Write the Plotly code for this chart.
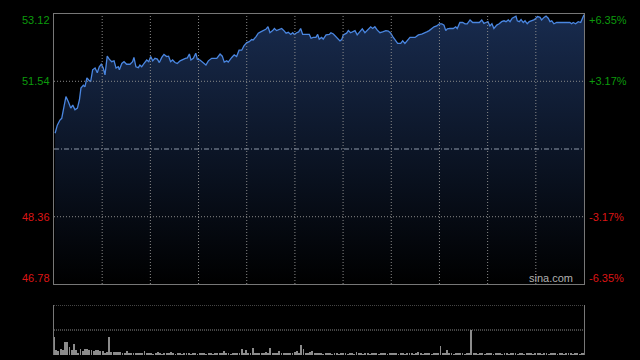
import plotly.graph_objects as go

# ---------------- data ----------------
# minutes since open (0..240) and last price
minutes = [
    0.5, 1.5, 2.7, 3.5, 4.5, 5.4, 6.5, 7.6, 8.5, 9.5, 10.6, 11.5, 12.2, 13.3, 14.0, 14.9, 15.7, 16.6,
    17.5, 18.6, 19.6, 20.5, 21.4, 22.3, 23.1, 24.1, 25.0, 26.1, 27.2, 28.1, 29.1, 29.6, 30.7, 31.7,
    32.9, 34.4, 35.6, 36.2, 37.1, 38.2, 38.9, 39.7, 40.8, 42.0, 42.9, 43.8, 44.7, 45.7, 46.8, 47.7,
    48.8, 49.8, 51.0, 51.9, 52.8, 53.7, 54.8, 55.8, 57.1, 58.3, 59.5, 60.4, 61.3, 62.0, 63.1, 64.2,
    64.9, 66.1, 67.6, 68.8, 69.9, 71.4, 73.7, 75.2, 76.2, 77.1, 78.2, 78.9, 80.5, 81.6, 82.7, 83.8,
    85.0, 86.0, 87.3, 88.4, 89.5, 90.2, 91.5, 92.5, 93.6, 94.8, 95.9, 96.9, 97.8, 99.0, 99.8, 100.8,
    102.0, 103.1, 104.1, 105.1, 106.1, 107.2, 108.1, 108.8, 109.9, 110.8, 111.7, 112.6, 114.4, 115.6,
    116.4, 117.4, 118.6, 119.4, 120.1, 121.2, 121.9, 123.2, 124.7, 125.4, 126.5, 128.0, 129.5, 130.3,
    131.0, 132.5, 133.3, 134.3, 135.5, 136.3, 137.3, 138.6, 139.6, 140.8, 142.3, 143.4, 144.3, 145.3,
    146.4, 147.6, 148.8, 150.3, 151.4, 152.5, 153.4, 154.4, 155.6, 157.0, 157.9, 158.9, 160.0, 161.2,
    163.5, 165.0, 166.5, 167.5, 168.8, 169.9, 171.0, 172.1, 173.3, 174.5, 175.6, 176.6, 177.4, 178.1,
    179.3, 180.8, 181.9, 182.6, 183.8, 185.1, 186.1, 187.1, 188.4, 189.6, 191.1, 192.6, 193.7, 194.7,
    195.6, 196.5, 197.4, 198.3, 199.2, 200.5, 201.6, 202.7, 203.8, 204.7, 205.7, 206.5, 207.5, 208.4,
    209.2, 209.8, 210.7, 211.5, 212.5, 213.3, 214.3, 215.2, 216.3, 217.3, 218.2, 219.0, 220.1, 220.8,
    221.9, 222.8, 223.8, 224.6, 225.4, 226.4, 227.6, 229.1, 230.6, 232.1, 233.6, 234.4, 235.1, 236.2,
    237.4, 238.5, 239.4, 240.0,
]
prices = [
    50.32, 50.51, 50.63, 50.67, 50.94, 51.18, 51.06, 50.91, 50.98, 50.87, 50.91, 51.10, 51.38, 51.45,
    51.41, 51.62, 51.57, 51.53, 51.81, 51.85, 51.74, 51.88, 51.94, 51.85, 51.69, 52.13, 52.06, 52.00,
    52.02, 51.85, 51.88, 51.81, 51.96, 52.00, 51.94, 51.94, 52.00, 52.10, 51.88, 51.86, 51.92, 51.88,
    51.96, 52.04, 52.00, 52.12, 52.02, 52.08, 52.06, 51.98, 52.10, 52.17, 52.12, 52.13, 52.00, 52.04,
    51.98, 51.96, 52.02, 52.06, 52.08, 52.09, 52.18, 52.04, 52.08, 52.20, 52.06, 52.04, 51.98, 51.92,
    52.02, 52.08, 52.08, 52.18, 52.13, 51.99, 52.02, 51.99, 52.10, 52.16, 52.12, 52.27, 52.27, 52.37,
    52.45, 52.47, 52.52, 52.51, 52.59, 52.67, 52.70, 52.74, 52.76, 52.82, 52.68, 52.73, 52.78, 52.73,
    52.76, 52.78, 52.73, 52.67, 52.69, 52.64, 52.68, 52.64, 52.68, 52.70, 52.78, 52.64, 52.64, 52.64,
    52.55, 52.57, 52.57, 52.64, 52.53, 52.57, 52.53, 52.63, 52.64, 52.68, 52.65, 52.57, 52.49, 52.52,
    52.63, 52.67, 52.73, 52.68, 52.70, 52.73, 52.63, 52.70, 52.77, 52.68, 52.76, 52.82, 52.78, 52.82,
    52.74, 52.68, 52.70, 52.73, 52.72, 52.67, 52.59, 52.51, 52.43, 52.43, 52.49, 52.43, 52.49, 52.57,
    52.57, 52.63, 52.65, 52.68, 52.70, 52.73, 52.78, 52.82, 52.84, 52.89, 52.89, 52.86, 52.73, 52.77,
    52.78, 52.78, 52.82, 52.78, 52.92, 52.92, 52.89, 52.89, 52.98, 52.92, 52.92, 52.92, 52.98, 52.90,
    52.92, 52.94, 52.84, 52.89, 52.78, 52.86, 52.89, 52.94, 52.96, 52.94, 52.98, 52.94, 53.02, 53.04,
    53.07, 52.96, 52.94, 52.99, 52.92, 52.96, 52.89, 52.94, 52.96, 52.98, 53.02, 53.06, 53.04, 52.98,
    53.04, 53.07, 53.02, 52.94, 52.96, 52.89, 52.92, 52.92, 52.92, 52.92, 52.92, 52.89, 52.92, 52.89,
    52.94, 52.92, 53.04, 53.10,
]
volume = [
    37, 10, 9, 12, 10, 27, 27, 17, 10, 23, 10, 5, 12, 9, 12, 12, 10, 10, 9, 10, 10, 9, 9, 5, 6,
    37, 7, 7, 7, 7, 7,
    5, 5, 9, 4, 5, 4, 3, 5, 4, 3,
    8, 3, 4, 3, 2, 4, 7, 3, 2, 4, 3, 5, 6, 3, 2, 3, 4, 2, 3, 4,
    3, 2, 4, 3, 2, 3, 5, 3, 2, 4, 3, 2, 3, 4, 3, 5,
    9,
    3, 4, 2, 3, 5, 4, 3,
    13, 4, 11, 5, 3, 15,
    4, 3, 5, 3, 4, 6, 3,
    15,
    4, 3, 5,
    9,
    3, 4, 3, 5, 3, 4,
    7, 9, 4, 21, 12, 4, 3, 6, 8, 3, 4, 3,
    3, 2, 4, 3, 5, 2, 3, 4, 2, 3, 5, 3, 2, 4, 3, 2, 6, 3, 4, 2,
    3, 5, 2, 3, 4, 3, 2, 5, 3, 4, 2, 3, 4, 5, 3, 2, 4, 3, 2, 5,
    3, 4, 2, 3, 6, 3, 2, 4, 3, 5, 2, 3, 4, 3,
    19, 3, 4, 11,
    3, 4, 2, 3, 5, 3, 4, 2, 3, 4,
    50,
    3, 4, 2, 3, 5, 2, 3, 4, 3, 2, 4, 3, 5, 2, 3, 4, 2, 3, 3, 4,
    2, 5, 3, 2, 4, 3, 3, 2, 4, 3, 5, 2, 3, 4, 2, 3, 3, 4, 2, 3,
    5, 2, 3, 4, 3, 2, 3, 4, 2, 3, 4,
]
vol_minutes = list(range(len(volume)))

prev_close = 49.95
price_ticks = [46.78, 48.36, 51.54, 53.12]
price_labels = ["46.78", "48.36", "51.54", "53.12"]
pct_labels = ["-6.35%", "-3.17%", "+3.17%", "+6.35%"]
vol_grid = [50, 100]
session_minutes = 240
n_vgrid = 11

# ---------------- style ----------------
X0, X1 = 54 / 640, 584 / 640
MAIN = [(360 - 284) / 360, (360 - 14) / 360]
VOL = [(360 - 355) / 360, (360 - 305) / 360]
FRAME = "#777777"
GRID = "#8a8a8a"
GREEN = "#0c9a0c"
RED = "#dd1515"
FONT = "Arial, Liberation Sans, sans-serif"

fig = go.Figure()
fig.add_trace(go.Scatter(
    x=minutes, y=prices, mode="lines",
    line=dict(color="#4a86e0", width=1.3),
    fill="tozeroy",
    fillgradient=dict(type="vertical",
                      colorscale=[[0, "#000000"], [1, "#182b4e"]],
                      start=price_ticks[0], stop=price_ticks[-1]),
    xaxis="x", yaxis="y", hoverinfo="skip", showlegend=False,
))
fig.add_trace(go.Bar(
    x=vol_minutes, y=volume, width=0.4,
    marker=dict(color="#8c8c8c", line=dict(width=0)),
    xaxis="x2", yaxis="y3", hoverinfo="skip", showlegend=False,
))

shapes = []
for k in range(1, n_vgrid):
    xv = session_minutes * k / n_vgrid
    shapes.append(dict(type="line", xref="x", yref="y domain", x0=xv, x1=xv, y0=0, y1=1,
                       line=dict(color=GRID, width=1, dash="1px,2px"), layer="above"))
for v in price_ticks[1:-1]:
    shapes.append(dict(type="line", xref="x domain", yref="y", x0=0, x1=1, y0=v, y1=v,
                       line=dict(color=GRID, width=1, dash="1px,2px"), layer="above"))
shapes.append(dict(type="line", xref="x domain", yref="y", x0=0, x1=1, y0=prev_close, y1=prev_close,
                   line=dict(color="#8f9aab", width=1, dash="5px,2px,1px,2px"), layer="above"))
for v in vol_grid:
    shapes.append(dict(type="line", xref="x2 domain", yref="y3", x0=0, x1=1, y0=v, y1=v,
                       line=dict(color=GRID, width=1, dash="1px,1px"), layer="above"))

annotations = []
for i, (v, lab, pct) in enumerate(zip(price_ticks, price_labels, pct_labels)):
    col = GREEN if v > prev_close else RED
    ys = -6 if i == len(price_ticks) - 1 else (6 if i == 0 else 0)
    annotations.append(dict(xref="paper", yref="y", x=X0, y=v, text=lab, showarrow=False,
                            xanchor="right", yanchor="middle", xshift=-2, yshift=ys,
                            font=dict(family=FONT, size=11, color=col)))
    annotations.append(dict(xref="paper", yref="y", x=X1, y=v, text=pct, showarrow=False,
                            xanchor="left", yanchor="middle", xshift=3, yshift=ys,
                            font=dict(family=FONT, size=11, color=col)))
annotations.append(dict(xref="paper", yref="y", x=X1, y=price_ticks[0], text="sina.com",
                        showarrow=False, xanchor="right", yanchor="middle", xshift=-9, yshift=6,
                        font=dict(family=FONT, size=11, color="#b0b0b0")))

fig.update_layout(
    width=640, height=360,
    margin=dict(l=0, r=0, t=0, b=0),
    paper_bgcolor="#000000", plot_bgcolor="#000000",
    showlegend=False, bargap=0,
    xaxis=dict(domain=[X0, X1], range=[0, session_minutes], showgrid=False, zeroline=False,
               showticklabels=False, ticks="", showline=True, linecolor=FRAME, linewidth=1,
               mirror=True, anchor="y", fixedrange=True),
    yaxis=dict(domain=MAIN, range=[price_ticks[0], price_ticks[-1]], showgrid=False,
               zeroline=False, showticklabels=False, ticks="", showline=True, linecolor=FRAME,
               linewidth=1, mirror=True, anchor="x", fixedrange=True),
    xaxis2=dict(domain=[X0, X1], range=[0, session_minutes], showgrid=False, zeroline=False,
                showticklabels=False, ticks="", showline=False, anchor="y3", fixedrange=True),
    yaxis3=dict(domain=VOL, range=[0, 100], showgrid=False, zeroline=False,
                showticklabels=False, ticks="", showline=True, linecolor=FRAME, linewidth=1,
                mirror=True, anchor="x2", fixedrange=True),
    shapes=shapes,
    annotations=annotations,
)

fig.write_html("out.html")
